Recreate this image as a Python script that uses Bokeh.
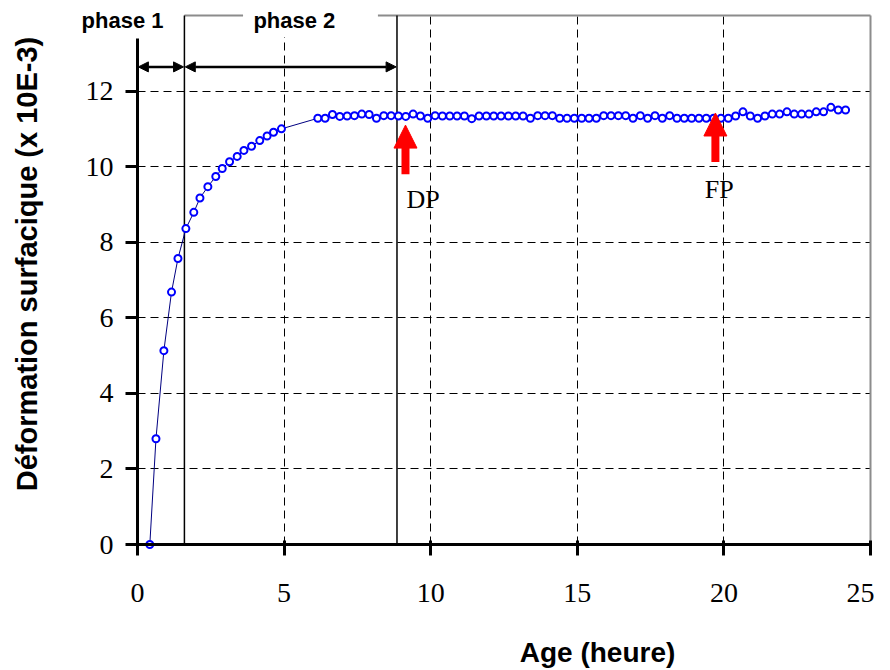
import math
from bokeh.plotting import figure
from bokeh.models import Range1d, FixedTicker, Label, Arrow, NormalHead
from bokeh.embed import file_html
from bokeh.resources import INLINE

# ---- data ----
age = [0.42, 0.63, 0.90, 1.16, 1.38, 1.65, 1.92, 2.13, 2.40, 2.67, 2.89, 3.14, 3.40, 3.63,
       3.89, 4.17, 4.42, 4.64, 4.91,
       6.15, 6.40, 6.65, 6.90, 7.15, 7.40, 7.65, 7.90, 8.15, 8.40, 8.65, 8.90, 9.15, 9.40, 9.65, 9.90,
       10.15, 10.40, 10.65, 10.90, 11.15, 11.40, 11.65, 11.90, 12.15, 12.40, 12.65, 12.90, 13.15, 13.40, 13.65, 13.90,
       14.15, 14.40, 14.65, 14.90, 15.15, 15.40, 15.65, 15.90, 16.15, 16.40, 16.65, 16.90, 17.15, 17.40, 17.65, 17.90,
       18.15, 18.40, 18.65, 18.90, 19.15, 19.40, 19.65, 19.90, 20.15, 20.40, 20.65, 20.90, 21.15, 21.40, 21.65, 21.90,
       22.15, 22.40, 22.65, 22.90, 23.15, 23.40, 23.65, 23.90, 24.15]
strain = [0.00, 2.80, 5.13, 6.68, 7.57, 8.36, 8.79, 9.17, 9.47, 9.74, 9.95, 10.13, 10.27, 10.43,
          10.54, 10.69, 10.81, 10.91, 11.00,
          11.28, 11.28, 11.38, 11.33, 11.34, 11.35, 11.39, 11.38, 11.28, 11.35, 11.35, 11.34, 11.33, 11.39, 11.34, 11.28,
          11.35, 11.34, 11.34, 11.34, 11.34, 11.27, 11.34, 11.34, 11.34, 11.34, 11.34, 11.34, 11.34, 11.28, 11.35, 11.35,
          11.35, 11.28, 11.28, 11.28, 11.28, 11.28, 11.28, 11.35, 11.35, 11.35, 11.35, 11.28, 11.35, 11.28, 11.35, 11.28,
          11.35, 11.28, 11.28, 11.28, 11.28, 11.28, 11.28, 11.28, 11.28, 11.34, 11.45, 11.34, 11.28, 11.34, 11.39, 11.39,
          11.45, 11.39, 11.39, 11.39, 11.45, 11.45, 11.57, 11.50, 11.50]

x_ticks = [0, 5, 10, 15, 20, 25]
y_ticks = [0, 2, 4, 6, 8, 10, 12]
phase_bounds = [1.6, 8.85]          # hours: end of phase 1, end of phase 2
phase_labels = ["phase 1", "phase 2"]
dp_age, fp_age = 9.14, 19.71        # DP / FP markers (hours)

SANS = "Liberation Sans"
SERIF = "Liberation Serif"

# ---- layout: frame covers the whole canvas, axes fixed at 0 ----
W, H = 874, 670
PX_LEFT, PX_RIGHT, PX_TOP, PX_BOTTOM = 137, 870, 15, 544   # where x=0..25, y=14..0 sit
sx = (PX_RIGHT - PX_LEFT) / 25.0
sy = (PX_BOTTOM - PX_TOP) / 14.0
x_range = Range1d(-PX_LEFT / sx, (W - PX_LEFT) / sx)
y_range = Range1d(-(H - PX_BOTTOM) / sy, PX_BOTTOM / sy)

p = figure(frame_width=W, frame_height=H, x_range=x_range, y_range=y_range,
           output_backend="svg", toolbar_location=None,
           min_border_left=0, min_border_right=0, min_border_top=0, min_border_bottom=0,
           background_fill_color="white", border_fill_color="white",
           outline_line_color=None)

# axes
for ax in (p.xaxis[0], p.yaxis[0]):
    ax.fixed_location = 0
    ax.axis_line_width = 3
    ax.axis_line_color = "black"
    ax.major_tick_line_width = 3
    ax.major_tick_line_color = "black"
    ax.minor_tick_line_color = None
    ax.major_label_text_font = SERIF
    ax.major_label_text_font_size = "28px"
    ax.major_label_text_color = "black"
    ax.axis_label = None

p.xaxis.ticker = FixedTicker(ticks=x_ticks)
p.xaxis.major_tick_in = 4
p.xaxis.major_tick_out = 11
p.xaxis.major_label_standoff = 28
p.xaxis.bounds = (0, 25)

p.yaxis.ticker = FixedTicker(ticks=y_ticks)
p.yaxis.major_tick_in = 0
p.yaxis.major_tick_out = 12
p.yaxis.major_label_standoff = 12
p.yaxis.bounds = (0, 13.4)

# grid
p.xgrid.ticker = FixedTicker(ticks=[5, 10, 15, 20])
p.ygrid.ticker = FixedTicker(ticks=[2, 4, 6, 8, 10, 12])
p.xgrid.cross_bounds = (0, 14)
p.ygrid.cross_bounds = (0, 25)
for g in (p.xgrid[0], p.ygrid[0]):
    g.grid_line_color = "black"
    g.grid_line_dash = "8 5"
    g.grid_line_width = 1
    g.grid_line_alpha = 1

# white mask behind "phase 2" label box
p.quad(left=[3.6], right=[8.2], bottom=[13.43], top=[14.1],
       fill_color="white", line_color=None)

# gray frame (top with gap for label, right side)
p.segment(x0=[phase_bounds[0], 8.2, 25], y0=[14, 14, 0],
          x1=[3.6, 25, 25], y1=[14, 14, 14],
          line_color="#8c8c8c", line_width=2)

# phase boundary lines
p.segment(x0=phase_bounds, y0=[0, 0], x1=phase_bounds, y1=[14, 14],
          line_color="black", line_width=1.5)

# data
p.line(age, strain, line_color="#000080", line_width=1)
p.scatter(age, strain, marker="circle", size=7, line_color="#0000FF",
          line_width=2, fill_color="white")

# double arrows for phases
arrow_y = 12.64
for xs, xe in [(0, phase_bounds[0]), (phase_bounds[0], phase_bounds[1])]:
    p.add_layout(Arrow(start=NormalHead(size=10, fill_color="black", line_color="black"),
                       end=NormalHead(size=10, fill_color="black", line_color="black"),
                       x_start=xs + 0.03, y_start=arrow_y, x_end=xe - 0.03, y_end=arrow_y,
                       line_color="black", line_width=2.5))

# phase labels
p.add_layout(Label(x=-0.51, y=13.857, text=phase_labels[0], text_font=SANS,
                   text_font_style="bold", text_font_size="22px",
                   text_align="center", text_baseline="middle", text_color="black"))
p.add_layout(Label(x=5.35, y=13.857, text=phase_labels[1], text_font=SANS,
                   text_font_style="bold", text_font_size="22px",
                   text_align="center", text_baseline="middle", text_color="black"))

# red arrows DP / FP
p.add_layout(Arrow(end=NormalHead(size=23, fill_color="red", line_color="red"),
                   x_start=dp_age, y_start=9.8, x_end=dp_age, y_end=11.1,
                   line_color="red", line_width=8))
p.add_layout(Arrow(end=NormalHead(size=23, fill_color="red", line_color="red"),
                   x_start=fp_age, y_start=10.12, x_end=fp_age, y_end=11.42,
                   line_color="red", line_width=8))
p.add_layout(Label(x=9.74, y=9.14, text="DP", text_font=SERIF, text_font_size="26px",
                   text_align="center", text_baseline="middle", text_color="black"))
p.add_layout(Label(x=19.84, y=9.40, text="FP", text_font=SERIF, text_font_size="26px",
                   text_align="center", text_baseline="middle", text_color="black"))

# axis titles
p.add_layout(Label(x=15.69, y=-2.858, text="Age (heure)", text_font=SANS,
                   text_font_style="bold", text_font_size="28px",
                   text_align="center", text_baseline="middle", text_color="black"))
p.add_layout(Label(x=-3.752, y=7.423, text="Déformation surfacique (x 10E-3)", text_font=SANS,
                   text_font_style="bold", text_font_size="29px", angle=math.pi / 2,
                   text_align="center", text_baseline="middle", text_color="black"))

open("out.html", "w").write(file_html(p, INLINE))
